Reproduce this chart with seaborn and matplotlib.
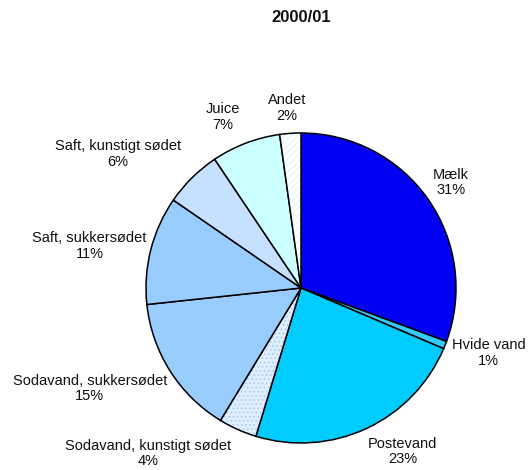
import matplotlib
matplotlib.use("Agg")
import matplotlib.pyplot as plt
import matplotlib.transforms as mtransforms
import seaborn as sns

sns.set_theme(style="white")
plt.rcParams['font.family'] = ['Liberation Sans', 'DejaVu Sans']
plt.rcParams['hatch.linewidth'] = 0.5

title = "2000/01"
categories = ["Mælk", "Hvide vand", "Postevand", "Sodavand, kunstigt sødet",
              "Sodavand, sukkersødet", "Saft, sukkersødet", "Saft, kunstigt sødet",
              "Juice", "Andet"]
values = [30.6, 0.8, 23.3, 4.0, 14.6, 11.3, 6.0, 7.2, 2.2]
pct_labels = ["31%", "1%", "23%", "4%", "15%", "11%", "6%", "7%", "2%"]
colors = ["#0000F2", "#33CCFF", "#00CCFF", "#DDEEFF", "#99CCFF",
          "#99CCFF", "#C6E0FF", "#CCFFFF", "#FFFFFF"]
hatches = [None, None, None, "....", None, None, None, None, "/////"]
hatch_colors = [None, None, None, "#A0C0F0", None, None, None, None, "#C8F4F8"]

# layout: label nudges in pixels (dx, dy downward)
label_nudge = [(-8, -8), (-8, 2), (-5, 9), (0, 10), (10, 9), (11, 0),
               (0, -13), (0, -12), (17, -10)]

fig = plt.figure(figsize=(5.29, 4.70), dpi=100)
ax = fig.add_axes([0.2174, -0.0085, 0.7032, 0.7915])

labels = [f"{c}\n{p}" for c, p in zip(categories, pct_labels)]
wedges, texts = ax.pie(values, labels=labels, colors=colors, startangle=90,
                       counterclock=False, labeldistance=1.1,
                       wedgeprops=dict(edgecolor="black", linewidth=1.1),
                       textprops=dict(fontsize=10.5, color="#111111",
                                      multialignment="center",
                                      linespacing=1.15))
for w, h, hc in zip(wedges, hatches, hatch_colors):
    if h:
        w.set_hatch(h)
        w._hatch_color = matplotlib.colors.to_rgba(hc)
for t, (dx, dy) in zip(texts, label_nudge):
    t.set_transform(t.get_transform() +
                    mtransforms.ScaledTranslation(dx / 100, -dy / 100,
                                                  fig.dpi_scale_trans))
ax.set_xlim(-1.2, 1.2)
ax.set_ylim(-1.2, 1.2)
ax.set_aspect("equal")

fig.text(0.569, 0.962, title, ha="center", va="center", fontsize=12,
         fontweight="bold", color="#111111")

fig.savefig("out.png", dpi=100, facecolor="white")
